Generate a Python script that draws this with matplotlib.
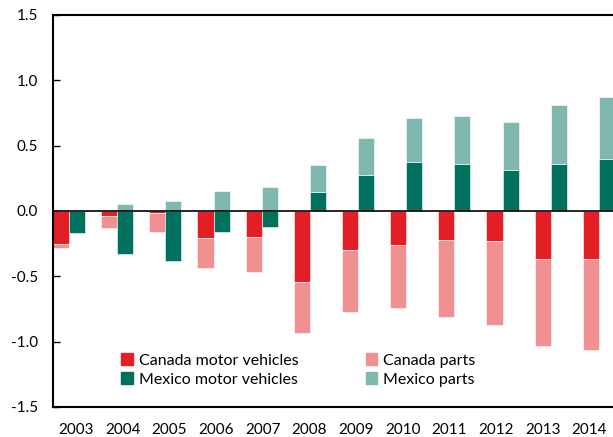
import matplotlib
matplotlib.use("Agg")
import matplotlib.pyplot as plt
from matplotlib.patches import Patch
import numpy as np

years = ["2003", "2004", "2005", "2006", "2007", "2008", "2009", "2010", "2011", "2012", "2013", "2014"]
canada_mv = [-0.25, -0.04, -0.015, -0.21, -0.20, -0.54, -0.30, -0.26, -0.225, -0.23, -0.365, -0.37]
canada_parts = [-0.03, -0.09, -0.145, -0.23, -0.27, -0.39, -0.47, -0.48, -0.585, -0.64, -0.67, -0.69]
mexico_mv = [-0.17, -0.33, -0.38, -0.16, -0.125, 0.143, 0.273, 0.373, 0.357, 0.311, 0.36, 0.396]
mexico_parts = [0.0, 0.054, 0.08, 0.15, 0.18, 0.207, 0.287, 0.337, 0.373, 0.369, 0.454, 0.476]

c_cmv = "#e31f26"
c_cp = "#f09090"
c_mmv = "#00705f"
c_mp = "#80b8b0"

plt.rcParams['font.family'] = ['Lato', 'DejaVu Sans']

fig = plt.figure(figsize=(6.13, 4.37), dpi=100)
ax = fig.add_axes([53/613, 1-407/437, 578/613, 392/437])

x = np.arange(len(years))
w = 1/3
cm = np.array(canada_mv); cp = np.array(canada_parts)
mm = np.array(mexico_mv); mp = np.array(mexico_parts)

def bottoms(base, add):
    # stack parts on top of motor vehicles if same sign, else from zero
    return np.where(np.sign(base) == np.sign(add), base, 0.0)

ec = dict(edgecolor="#ffffff", linewidth=0.4)
ax.bar(x - w, cm, width=w, color=c_cmv, **ec, zorder=2)
ax.bar(x - w, cp, width=w, bottom=bottoms(cm, cp), color=c_cp, **ec, zorder=2)
ax.bar(x, mm, width=w, color=c_mmv, **ec, zorder=2)
ax.bar(x, mp, width=w, bottom=bottoms(mm, mp), color=c_mp, **ec, zorder=2)

ax.axhline(0, color="black", linewidth=1.2, zorder=3)
ax.set_xlim(-0.5, len(years) - 0.5)
ax.set_ylim(-1.5, 1.5)
ax.set_yticks([-1.5, -1.0, -0.5, 0.0, 0.5, 1.0, 1.5])
ax.set_yticklabels(["-1.5", "-1.0", "-0.5", "0.0", "0.5", "1.0", "1.5"])
# category labels are spaced slightly tighter than the bar groups in the original
ax.set_xticks(x * 0.969 - 0.02)
ax.set_xticklabels(years)
ax.tick_params(axis='x', length=0, pad=11.5, labelsize=11)
ax.tick_params(axis='y', direction='in', length=5, width=1, pad=11, labelsize=11)
for s in ax.spines.values():
    s.set_linewidth(1.5)

handles = [Patch(color=c_cmv, label="Canada motor vehicles"),
           Patch(color=c_mmv, label="Mexico motor vehicles"),
           Patch(color=c_cp, label="Canada parts"),
           Patch(color=c_mp, label="Mexico parts")]
ax.legend(handles=handles, ncol=2, frameon=False, loc="lower left",
          bbox_to_anchor=(62/578, 14/392), fontsize=11.5,
          handlelength=0.7, handleheight=0.7, handletextpad=0.4,
          columnspacing=4.2, labelspacing=0.3, borderaxespad=0)

fig.savefig("out.png", dpi=100)
